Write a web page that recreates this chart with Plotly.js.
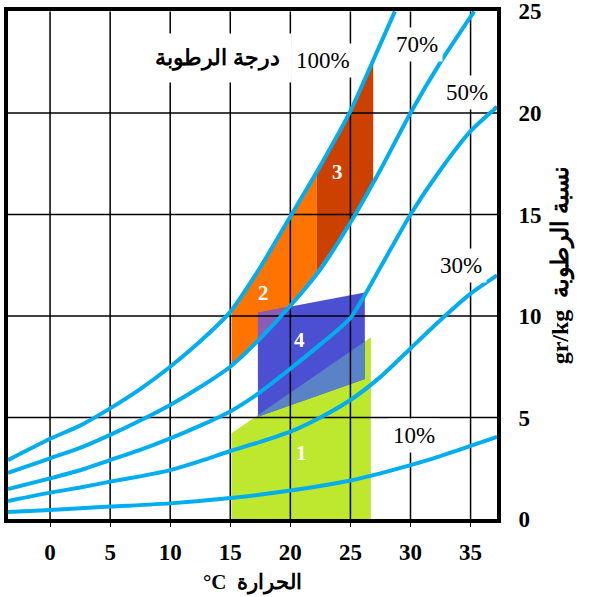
<!DOCTYPE html>
<html><head><meta charset="utf-8">
<script src="https://cdn.plot.ly/plotly-3.0.1.min.js"></script>
<style>html,body{margin:0;padding:0;background:#fff}</style>
</head><body><div id="chart" style="width:589px;height:597px"></div>
<script>
// Axis ticks
const tempTicks = [0, 5, 10, 15, 20, 25, 30, 35];
const moistTicks = [0, 5, 10, 15, 20, 25];

// Relative humidity curves (temperature °C, moisture g/kg)
const rh100T = [-3.5, 0, 2.5, 5, 7.5, 10, 12.5, 15, 17.5, 20, 22.5, 25, 27.5, 28.7];
const rh100W = [2.9, 3.95, 4.6, 5.45, 6.4, 7.5, 8.75, 10.2, 12.4, 14.9, 17.4, 20.1, 23.4, 25];
const rh70T = [-3.5, 0, 2.5, 5, 7.5, 10, 12.5, 15, 17.5, 20, 22.5, 25, 27.5, 30, 32.5, 35.3];
const rh70W = [2.27, 2.99, 3.5, 4.14, 4.85, 5.62, 6.5, 7.5, 8.9, 10.5, 12.3, 14.6, 17.2, 20.0, 22.5, 25];
const rh50T = [-3.5, 0, 2.5, 5, 7.5, 10, 12.5, 15, 17.5, 20, 22.5, 25, 27.5, 30, 32.5, 35, 37.2];
const rh50W = [1.48, 2.0, 2.4, 2.9, 3.4, 3.97, 4.6, 5.3, 6.25, 7.4, 8.6, 9.9, 12.4, 15.0, 17.2, 19.1, 20.3];
const rh30T = [-3.5, 0, 2.5, 5, 7.5, 10, 12.5, 15, 17.5, 20, 22.5, 25, 27.5, 30, 32.5, 35, 37.2];
const rh30W = [0.89, 1.30, 1.55, 1.84, 2.1, 2.41, 2.85, 3.35, 3.8, 4.3, 5.0, 5.86, 7.0, 8.4, 9.8, 11.1, 12.0];
const rh10T = [-3.5, 0, 5, 10, 15, 20, 25, 27.5, 30, 32.5, 35, 37.2];
const rh10W = [0.34, 0.44, 0.61, 0.77, 1.03, 1.4, 1.9, 2.25, 2.65, 3.1, 3.6, 4.05];

// Comfort zones (polygon vertices)
const zone1T = [15.1, 15.1, 26.7, 26.7];
const zone1W = [0, 4.22, 8.95, 0];
const zone2T = [15.1, 15.1, 17.5, 20, 22.2, 22.2, 20, 17.5, 15.1];
const zone2W = [7.6, 10.3, 12.4, 14.9, 17.0, 12.2, 10.5, 8.9, 7.6];
const zone3T = [22.2, 22.2, 25, 26.9, 26.9, 25, 22.2];
const zone3W = [12.2, 17.0, 20.1, 22.6, 16.5, 14.6, 12.2];
const zone4T = [17.3, 17.3, 26.2, 26.2];
const zone4W = [5.04, 10.16, 11.15, 6.9];
const overlap24T = [17.3, 17.3, 20.2];
const overlap24W = [8.8, 10.16, 10.5];

const zoneLabels = ['1', '2', '3', '4'];
const zoneLabelT = [20.9, 17.8, 23.9, 20.8];
const zoneLabelW = [3.25, 11.13, 17.1, 8.8];

const curveLabels = ['100%', '70%', '50%', '30%', '10%'];
const curveLabelT = [22.7, 30.5, 34.7, 34.2, 30.3];
const curveLabelW = [22.6, 23.35, 21.0, 12.5, 4.1];

const xRange = [-3.5, 37.2];
const yRange = [0, 25];

const serif = 'Liberation Serif, Times New Roman, DejaVu Serif, serif';
const cyan = '#00aeef';

// overlap of zone 1 (green) and zone 4 (blue): blue bottom edge up to green top edge
function greenTop(t) {
  const t0 = zone1T[1], t1 = zone1T[2], w0 = zone1W[1], w1 = zone1W[2];
  return w0 + (w1 - w0) * (t - t0) / (t1 - t0);
}
const overlap14T = [zone4T[0], zone4T[0], zone4T[3], zone4T[3]];
const overlap14W = [zone4W[0], greenTop(zone4T[0]), greenTop(zone4T[3]), zone4W[3]];

function poly(xs, ys, color) {
  return {x: xs, y: ys, mode: 'lines', fill: 'toself', fillcolor: color,
          line: {width: 0, color: color}, hoverinfo: 'skip', showlegend: false};
}
function curve(xs, ys) {
  return {x: xs, y: ys, mode: 'lines', line: {color: cyan, width: 4, shape: 'spline', smoothing: 0.6},
          hoverinfo: 'skip', showlegend: false};
}

// grid lines drawn above zones
const gx = [], gy = [];
tempTicks.forEach(t => { gx.push(t, t, null); gy.push(yRange[0], yRange[1], null); });
moistTicks.filter(w => w > yRange[0] && w < yRange[1]).forEach(w => { gx.push(xRange[0], xRange[1], null); gy.push(w, w, null); });

const traces = [
  poly(zone1T, zone1W, '#bde82e'),
  poly(zone2T, zone2W, '#ff7400'),
  poly(zone3T, zone3W, '#cc4100'),
  poly(zone4T, zone4W, '#4b50d2'),
  poly(overlap14T, overlap14W, '#5a82c6'),
  poly(overlap24T, overlap24W, '#8a5cb8'),
  {x: gx, y: gy, mode: 'lines', line: {color: '#000', width: 1.5}, hoverinfo: 'skip', showlegend: false},
  curve(rh100T, rh100W), curve(rh70T, rh70W), curve(rh50T, rh50W), curve(rh30T, rh30W), curve(rh10T, rh10W)
];

const annotations = [];
zoneLabels.forEach((s, i) => annotations.push({
  x: zoneLabelT[i], y: zoneLabelW[i], text: s, showarrow: false,
  font: {family: serif, size: 21, color: '#fff', weight: 'bold'}
}));
annotations.push({
  x: 13.9, y: 22.7, text: 'درجة الرطوبة', showarrow: false, bgcolor: '#fff', borderpad: 11,
  font: {family: serif, size: 22, color: '#000', weight: 'bold'}
});
curveLabels.forEach((s, i) => annotations.push({
  x: curveLabelT[i], y: curveLabelW[i], text: s, showarrow: false, bgcolor: '#fff', borderpad: 4,
  font: {family: serif, size: 23, color: '#000'}
}));

const layout = {
  width: 589, height: 597,
  margin: {l: 8, r: 92, t: 11, b: 78},
  paper_bgcolor: '#fff', plot_bgcolor: '#fff',
  showlegend: false,
  xaxis: {
    range: xRange, tickvals: tempTicks, showgrid: false, zeroline: false,
    showline: true, mirror: true, linewidth: 4, linecolor: '#000',
    ticks: 'outside', ticklen: 4, tickwidth: 1, tickcolor: '#000', ticklabelstandoff: 5,
    tickfont: {family: serif, size: 23, color: '#000', weight: 'bold'},
    title: {text: '°C  الحرارة', standoff: 12, font: {family: serif, size: 21, color: '#000', weight: 'bold'}}
  },
  yaxis: {
    range: [yRange[0], yRange[1] + 0.02], tickvals: moistTicks, side: 'right', showgrid: false, zeroline: false,
    showline: true, mirror: true, linewidth: 4, linecolor: '#000',
    ticks: '', ticklabelstandoff: 13, ticklabeloverflow: 'allow',
    tickfont: {family: serif, size: 23, color: '#000', weight: 'bold'},
    title: {text: 'gr/kg  نسبة الرطوبة', standoff: 12, font: {family: serif, size: 24, color: '#000', weight: 'bold'}}
  },
  annotations: annotations
};

Plotly.newPlot('chart', traces, layout, {displayModeBar: false, staticPlot: true});
</script>
</body></html>
